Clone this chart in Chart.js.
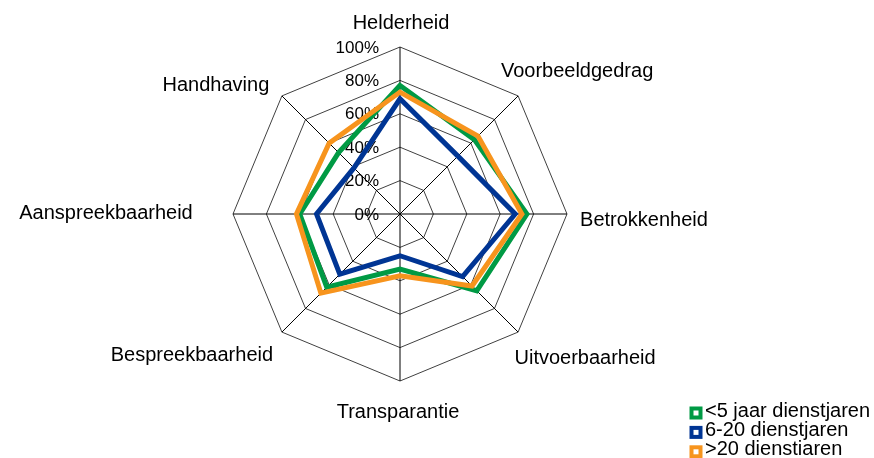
<!DOCTYPE html>
<html>
<head>
<meta charset="utf-8">
<script src="https://cdn.jsdelivr.net/npm/chart.js@4/dist/chart.umd.min.js"></script>
<style>
  html, body { margin: 0; padding: 0; background: #fff; }
  #wrap { width: 874px; height: 458px; position: relative; }
</style>
</head>
<body>
<div id="wrap"><canvas id="radar"></canvas></div>
<script>
const categories = ['Helderheid', 'Voorbeeldgedrag', 'Betrokkenheid', 'Uitvoerbaarheid',
  'Transparantie', 'Bespreekbaarheid', 'Aanspreekbaarheid', 'Handhaving'];
const seriesNames = ['<5 jaar dienstjaren', '6-20 dienstjaren', '>20 dienstiaren'];
const under5 = [77, 63, 76, 65, 33, 62, 60, 52];
const from6to20 = [69, 49, 69, 53, 25, 51, 50, 39];
const over20 = [73, 66, 73, 61, 37, 67, 62, 60];
const tickValues = [0, 20, 40, 60, 80, 100];

const colors = ['#009a44', '#003594', '#f7941d'];
const FONT = '"Liberation Sans", Arial, sans-serif';

// where Excel put each category label, relative to the outer vertex (cap centre)
const labelNudge = [[1, -24], [59, -24], [77, 6], [67, 26], [-2, 31], [-90, 23], [-127, -1], [-66, -10]];

const tickPlugin = {
  id: 'tickText',
  beforeDatasetsDraw(chart) {
    const scale = chart.scales.r;
    const ctx = chart.ctx;
    ctx.save();
    ctx.font = '17px ' + FONT;
    ctx.fillStyle = '#000';
    ctx.textAlign = 'right';
    ctx.textBaseline = 'middle';
    tickValues.forEach(v => {
      const y = scale.yCenter - scale.getDistanceFromCenterForValue(v);
      ctx.fillText(v + '%', scale.xCenter - 21, y + 1);
    });
    ctx.restore();
  }
};

const labelPlugin = {
  id: 'excelLabels',
  afterDraw(chart) {
    const scale = chart.scales.r;
    const ctx = chart.ctx;
    ctx.save();
    ctx.font = '20px ' + FONT;
    ctx.fillStyle = '#000';
    ctx.textAlign = 'center';
    ctx.textBaseline = 'middle';
    categories.forEach((name, i) => {
      const p = scale.getPointPosition(i, scale.drawingArea);
      ctx.fillText(name, p.x + labelNudge[i][0], p.y + labelNudge[i][1]);
    });

    // legend, bottom right
    ctx.textAlign = 'left';
    const lx = chart.width - 178;
    const ly = chart.height - 47;
    chart.data.datasets.forEach((ds, i) => {
      const cy = ly + i * 19.4;
      ctx.fillStyle = '#fff';
      ctx.fillRect(lx - 4.5, cy - 2.5, 9, 9);
      ctx.strokeStyle = ds.borderColor;
      ctx.lineWidth = 4;
      ctx.strokeRect(lx - 4.5, cy - 2.5, 9, 9);
      ctx.fillStyle = '#000';
      ctx.fillText(ds.label, lx + 9, cy);
    });
    ctx.restore();
  }
};

const seriesData = [under5, from6to20, over20];

new Chart(document.getElementById('radar'), {
  type: 'radar',
  data: {
    labels: categories,
    datasets: seriesData.map((values, i) => ({
      label: seriesNames[i],
      data: values,
      borderColor: colors[i],
      backgroundColor: colors[i],
      borderWidth: 5,
      borderJoinStyle: 'miter',
      fill: false,
      pointRadius: 0,
      tension: 0,
      order: 3 - i  // last series on top, like Excel
    }))
  },
  options: {
    responsive: true,
    maintainAspectRatio: false,
    animation: false,
    layout: {
      padding: { left: 233, right: 307, top: 47, bottom: 77 }
    },
    scales: {
      r: {
        min: 0,
        max: 100,
        ticks: { stepSize: 20, display: false },
        pointLabels: { display: false },
        grid: { color: '#404040', lineWidth: 1 },
        angleLines: { color: '#000', lineWidth: 1 }
      }
    },
    plugins: {
      legend: { display: false },
      tooltip: { enabled: false }
    }
  },
  plugins: [tickPlugin, labelPlugin]
});
</script>
</body>
</html>
